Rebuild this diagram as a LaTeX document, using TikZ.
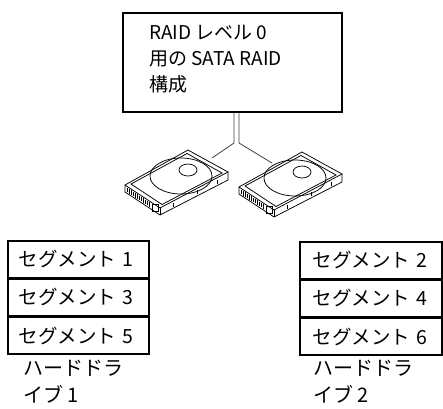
\documentclass[tikz,border=0pt]{standalone}
\usepackage{fontspec}
\setmainfont{Noto Sans CJK JP}
\usetikzlibrary{positioning, fit}

\tikzset{
  infobox/.style={draw, line width=1.5pt, inner sep=0pt},
  infotext/.style={inner sep=0pt, align=left, font=\fontsize{19}{26}\selectfont},
  segbox/.style={draw, line width=1.5pt, minimum width=141pt, minimum height=36.7pt,
    text width=119pt, inner xsep=11pt, inner ysep=0pt, align=left,
    font=\fontsize{19.5}{22}\selectfont},
  segboxr/.style={segbox, minimum width=142pt, text width=116pt, inner xsep=13pt},
  drivelabel/.style={inner sep=0pt, align=left, font=\fontsize{20}{27}\selectfont},
  cable/.style={line width=0.8pt, black!75},
  % hard disk drawn from its left corner
  hdd/.pic={
    \begin{scope}[line width=0.75pt]
      % top face and sides
      \draw[fill=white] (0,0) -- (63,-35) -- (103,-13) -- (35,23) -- cycle;
      \draw (0,0) -- (0,7) -- (35,30) -- (103,-5) -- (103,-13);
      \draw (35,23) -- (35,30);
      % raised rim
      \draw (6,-1) -- (62,-31.5) -- (97,-12) -- (37,19.5) -- cycle;
      % platter and spindle
      \draw (56,-9) ellipse (31 and 18);
      \draw (63,-15) ellipse (9 and 6);
      % connector pins
      \foreach \i in {1,...,12}
        \draw[line width=0.5pt] (\i*2, 1.5+\i*1.31) -- ++(0,4.5);
      \draw (27,19.5) rectangle (33,26);
      % screw marks
      \draw (48,17.5) -- ++(0,4);
      \draw (72,5) -- ++(0,4);
      \draw (92,-5.5) -- ++(0,4);
    \end{scope}
  }
}

\begin{document}
\begin{tikzpicture}[x=1pt, y=-1pt]
    \useasboundingbox (0,0) rectangle (443,408);

    % --- RAID box ---
    \coordinate (boxtl) at (123,13);
    \coordinate (boxbr) at (342,112);
    \node[infobox, fit=(boxtl)(boxbr)] (raid) {};
    \node[infotext, anchor=north west] (raidtext) at (149,25.5) {RAID レベル 0\\用の SATA RAID\\構成};

    % --- drives ---
    \pic at (125,185) {hdd};
    \pic at (239,187) {hdd};

    % --- cables ---
    \coordinate (forkL) at (234,143);
    \coordinate (forkR) at (239,143);
    \coordinate (endA) at (212,158);
    \coordinate (endB) at (272,163);
    \draw[cable] (raid.south -| forkL) -- (forkL) -- (endA);
    \draw[cable] (raid.south -| forkR) -- (forkR) -- (endB);

    % --- segments, drive 1 ---
    \node[segbox, anchor=north west] (seg1) at (7,240) {セグメント 1};
    \node[segbox, below=0pt of seg1] (seg3) {セグメント 3};
    \node[segbox, below=0pt of seg3] (seg5) {セグメント 5};
    \node[drivelabel, anchor=north west] (labA) at (23,360) {ハードドラ\\イブ 1};

    % --- segments, drive 2 ---
    \node[segboxr, anchor=north west] (seg2) at (299,241) {セグメント 2};
    \node[segboxr, below=0pt of seg2] (seg4) {セグメント 4};
    \node[segboxr, below=0pt of seg4] (seg6) {セグメント 6};
    \node[drivelabel, anchor=north west] (labB) at (313,360) {ハードドラ\\イブ 2};
\end{tikzpicture}
\end{document}
